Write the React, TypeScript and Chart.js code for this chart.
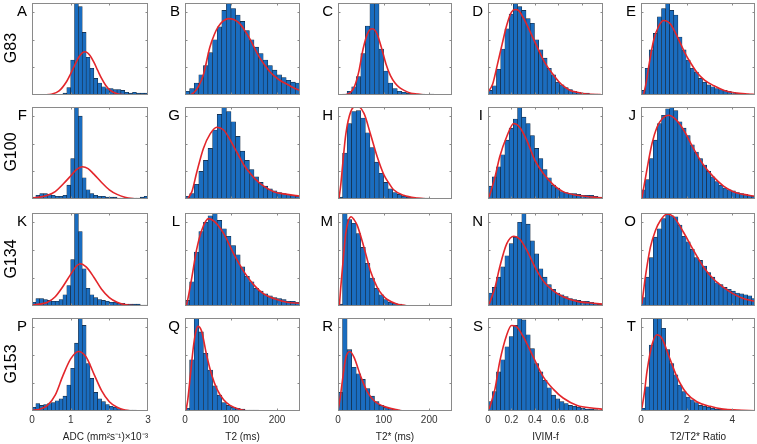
import React, { useEffect, useRef } from 'react';
import { Chart, registerables } from 'chart.js';

Chart.register(...registerables);

// ---------- axis definitions (one per column) ----------
const colTitles = ['ADC (mm²s⁻¹)×10⁻³', 'T2 (ms)', 'T2* (ms)', 'IVIM-f', 'T2/T2* Ratio'];
const colMin = [0, 0, 0, 0, 0];
const colMax = [3, 250, 250, 0.98, 5];
const adcTicks = [0, 1, 2, 3];
const t2Ticks = [0, 100, 200];
const t2sTicks = [0, 100, 200];
const ivimTicks = [0, 0.2, 0.4, 0.6, 0.8];
const ratioTicks = [0, 2, 4];
const binWidths = [0.1, 10, 10, 0.036, 0.18];
const rowLabels = ['G83', 'G100', 'G134', 'G153'];
const panelLetters = ['A', 'B', 'C', 'D', 'E', 'F', 'G', 'H', 'I', 'J', 'K', 'L', 'M', 'N', 'O', 'P', 'Q', 'R', 'S', 'T'];
const yTicks = [30, 60, 90];

// ---------- histogram heights (percent of panel height), bins start at 0 ----------
const histA = [0, 0, 0, 0, 0, 0, 0, 0, 2, 8, 38, 125, 96, 68, 41, 29, 18, 13, 9, 7, 7, 6, 6, 5, 3, 2, 3, 2, 2, 2];
const histB = [4, 7, 13, 22, 32, 46, 60, 74, 92, 108, 94, 87, 80, 70, 60, 52, 45, 38, 32, 27, 22, 19, 16, 14, 13];
const histC = [0, 1, 4, 9, 20, 45, 75, 115, 105, 50, 26, 13, 7, 4, 3, 2, 1, 1, 1, 0.5, 1, 0.5, 0, 0, 0];
const histD = [5, 10, 28, 50, 72, 88, 110, 96, 92, 83, 78, 60, 49, 40, 29, 22, 14, 11, 8, 6, 4, 3, 2, 2, 1, 1, 0.5];
const histE = [5, 29, 49, 67, 85, 94, 105, 92, 87, 63, 49, 38, 29, 25, 18, 14, 11, 9, 7, 6, 5, 4, 3, 2, 1, 1, 1, 0.5];
const histF = [2, 4, 6, 6, 5, 4, 3, 3, 4, 15, 44, 130, 90, 23, 10, 6, 4, 3, 3, 2, 2, 2, 1, 1, 1, 1, 1, 1, 2, 3];
const histG = [3, 6, 16, 30, 42, 55, 75, 92, 108, 95, 84, 68, 52, 42, 32, 24, 18, 14, 11, 9, 7, 6, 5, 4, 3];
const histH = [2, 50, 82, 95, 96, 88, 72, 56, 40, 28, 18, 11, 7, 5, 3, 2, 1.5, 1, 1, 1, 0.5, 0, 0, 0, 0];
const histI = [14, 24, 35, 48, 64, 77, 87, 108, 89, 82, 69, 55, 44, 32, 23, 15, 12, 8, 7, 6, 6, 5, 4, 4, 4, 3, 2];
const histJ = [10, 21, 44, 64, 82, 91, 98, 108, 96, 84, 77, 69, 59, 51, 44, 37, 30, 24, 19, 15, 12, 10, 9, 7, 6, 5, 4, 3];
const histK = [4, 8, 8, 7, 6, 5, 5, 7, 12, 22, 50, 110, 80, 40, 19, 12, 9, 7, 6, 5, 4, 4, 3, 3, 2, 2, 2, 2, 1, 1];
const histL = [6, 26, 58, 80, 90, 97, 106, 92, 83, 75, 65, 55, 42, 32, 26, 19, 16, 13, 11, 9, 8, 7, 5, 5, 4];
const histM = [2, 110, 93, 89, 78, 63, 46, 30, 19, 12, 7, 4, 3, 2, 1, 0.5, 0, 0, 0, 0, 0, 0, 0, 0, 0];
const histN = [14, 20, 31, 42, 54, 67, 74, 90, 105, 88, 70, 56, 40, 31, 23, 18, 14, 12, 10, 8, 7, 6, 5, 5, 4, 3, 2];
const histO = [9, 31, 52, 74, 83, 94, 99, 97, 96, 87, 75, 69, 61, 52, 49, 43, 36, 31, 25, 23, 20, 18, 16, 14, 13, 12, 11, 8];
const histP = [4, 8, 6, 7, 8, 9, 11, 13, 16, 28, 46, 73, 110, 92, 51, 35, 20, 13, 10, 7, 5, 4, 2.5, 1.5, 1, 1, 1, 0.5, 0.5, 0];
const histQ = [3, 55, 108, 85, 62, 44, 27, 17, 9, 6, 4, 3, 2, 1, 1, 1, 0.5, 0, 0, 0, 0, 0, 0, 0, 0];
const histR = [20, 115, 66, 47, 40, 34, 24, 16, 10, 6, 4, 3, 2, 1, 0.5, 0, 0, 0, 0, 0, 0, 0, 0, 0, 0];
const histS = [10, 21, 42, 55, 69, 80, 92, 106, 98, 82, 67, 51, 42, 33, 25, 17, 13, 10, 8, 6, 5, 4, 3, 2, 2, 1.5, 1];
const histT = [3, 26, 71, 105, 103, 89, 66, 51, 39, 28, 21, 15, 12, 9, 6, 5, 4, 3, 2, 2, 2, 1, 1, 1, 0.5, 0.5, 0.5, 0.5];

// ---------- fitted curves (x, height in percent of panel) ----------
const fitAx = [0.3, 0.5, 0.7, 0.9, 1.0, 1.1, 1.2, 1.3, 1.37, 1.5, 1.6, 1.7, 1.8, 1.9, 2.0, 2.2, 2.4];
const fitAy = [0.1, 0.9, 4.5, 15, 23, 32, 40.5, 45.8, 47, 43, 35.7, 26.7, 18, 10.9, 5.9, 1.3, 0.2];
const fitBx = [12, 20, 30, 40, 54, 64, 72, 82, 94, 106, 120, 130, 141, 152, 163, 174, 185, 196, 206, 217, 228, 239, 250];
const fitBy = [0, 3, 10, 22, 52, 66, 74, 80, 83, 82, 77, 70, 61, 50, 40, 32, 25, 20, 16, 13, 10, 7, 5];
const fitCx = [15, 25, 35, 45, 55, 65, 75, 85, 95, 105, 115, 125, 135, 145, 160, 175, 190];
const fitCy = [0, 2, 8, 24, 50, 67, 72, 67, 52, 34, 21, 13, 8, 5, 2, 1, 0];
const fitDx = [0, 0.04, 0.08, 0.12, 0.16, 0.2, 0.23, 0.26, 0.3, 0.34, 0.38, 0.42, 0.46, 0.5, 0.55, 0.6, 0.65, 0.7, 0.76, 0.84, 0.96];
const fitDy = [3, 12, 33, 55, 76, 90, 93, 92, 84, 74, 63, 52, 41, 32, 23, 15, 9, 5, 3, 1, 0.4];
const fitEx = [0.1, 0.2, 0.34, 0.56, 0.78, 1.0, 1.15, 1.3, 1.6, 1.9, 2.2, 2.5, 2.8, 3.2, 3.65, 4.1, 4.7, 5.0];
const fitEy = [0, 10, 31, 60, 75, 81, 80, 77, 63, 47, 34, 23, 16, 10, 5, 2.5, 1, 0.5];
const fitFx = [0, 0.2, 0.4, 0.6, 0.8, 1.0, 1.15, 1.3, 1.45, 1.6, 1.8, 2.0, 2.2, 2.4, 2.6, 2.8];
const fitFy = [1, 2, 4, 8, 16, 25, 32, 35, 33, 27, 18, 10, 5, 2, 0.5, 0];
const fitGx = [5, 15, 25, 40, 55, 69, 84, 95, 106, 117, 128, 140, 150, 171, 193, 222, 250];
const fitGy = [0, 8, 28, 55, 71, 78, 75, 67, 57, 47, 37, 29, 23, 14, 8, 5, 3];
const fitHx = [2, 6, 10, 17, 28, 42, 57, 71, 86, 101, 112, 122, 144, 174, 200];
const fitHy = [0, 15, 36, 70, 95, 101, 93, 71, 46, 26, 17, 10, 4, 1, 0];
const fitIx = [0.01, 0.06, 0.1, 0.16, 0.22, 0.27, 0.33, 0.4, 0.47, 0.56, 0.64, 0.76, 0.9, 0.98];
const fitIy = [2, 24, 46, 68, 82, 78, 64, 42, 28, 15, 8, 4, 2, 1];
const fitJx = [0.04, 0.26, 0.48, 0.7, 0.92, 1.21, 1.5, 1.87, 2.3, 2.74, 3.18, 3.62, 4.05, 4.49, 5];
const fitJy = [1, 32, 60, 78, 87, 91, 87, 75, 55, 37, 24, 14, 8, 5, 3];
const fitKx = [0, 0.2, 0.4, 0.6, 0.8, 1.0, 1.15, 1.25, 1.4, 1.6, 1.8, 2.0, 2.2, 2.4, 2.6, 2.8];
const fitKy = [1, 2, 4, 10, 21, 34, 43, 45.5, 42, 31, 18, 9, 4, 1.5, 0.5, 0];
const fitLx = [3, 8, 15, 25, 36, 51, 66, 84, 106, 128, 149, 171, 193, 222, 250];
const fitLy = [0, 12, 31, 60, 81, 94, 90, 78, 56, 37, 23, 13, 8, 4, 3];
const fitMx = [3, 6, 10, 17, 23, 29, 35, 42, 57, 71, 86, 97, 108, 130, 148];
const fitMy = [0, 20, 42, 78, 92, 96, 93, 87, 63, 38, 20, 12, 7, 2, 0.5];
const fitNx = [0.01, 0.06, 0.1, 0.16, 0.22, 0.27, 0.33, 0.4, 0.47, 0.56, 0.64, 0.76, 0.9, 0.98];
const fitNy = [2, 20, 42, 67, 75, 72, 60, 42, 27, 16, 10, 5, 3, 2];
const fitOx = [0.04, 0.19, 0.41, 0.63, 0.85, 1.14, 1.43, 1.87, 2.3, 2.74, 3.18, 3.62, 4.05, 4.49, 5];
const fitOy = [2, 31, 63, 81, 92, 99, 96, 79, 60, 42, 29, 20, 13, 8, 5];
const fitPx = [0, 0.2, 0.4, 0.6, 0.8, 1.0, 1.2, 1.4, 1.6, 1.8, 2.0, 2.2, 2.4, 2.6];
const fitPy = [0.5, 2, 6, 17, 38, 56, 64, 58, 40, 22, 10, 4, 1, 0];
const fitQx = [2, 6, 11, 18, 23, 28, 36, 47, 58, 69, 84, 98, 120, 135];
const fitQy = [0, 12, 35, 68, 84, 91, 86, 60, 39, 24, 12, 6, 1.5, 0];
const fitRx = [0, 5, 9.5, 17, 26, 35, 50, 64, 79, 100, 122, 137];
const fitRy = [0, 15, 32, 57, 64, 58, 37, 21, 11, 5, 2, 0.5];
const fitSx = [0.01, 0.06, 0.1, 0.16, 0.2, 0.24, 0.3, 0.39, 0.47, 0.56, 0.64, 0.76, 0.9, 0.98];
const fitSy = [2, 24, 53, 82, 92, 91, 80, 57, 37, 23, 14, 6, 3, 2];
const fitTx = [0.04, 0.15, 0.26, 0.48, 0.7, 0.92, 1.21, 1.57, 2.0, 2.45, 3.03, 3.6, 4.2, 5];
const fitTy = [3, 20, 42, 71, 82, 78, 60, 37, 19, 10, 5, 2, 1, 0.3];

// ---------- tables built from the arrays above ----------
const colTicks = [adcTicks, t2Ticks, t2sTicks, ivimTicks, ratioTicks];
const HISTS = [
  [histA, histB, histC, histD, histE],
  [histF, histG, histH, histI, histJ],
  [histK, histL, histM, histN, histO],
  [histP, histQ, histR, histS, histT],
];
const FITS_X = [
  [fitAx, fitBx, fitCx, fitDx, fitEx],
  [fitFx, fitGx, fitHx, fitIx, fitJx],
  [fitKx, fitLx, fitMx, fitNx, fitOx],
  [fitPx, fitQx, fitRx, fitSx, fitTx],
];
const FITS_Y = [
  [fitAy, fitBy, fitCy, fitDy, fitEy],
  [fitFy, fitGy, fitHy, fitIy, fitJy],
  [fitKy, fitLy, fitMy, fitNy, fitOy],
  [fitPy, fitQy, fitRy, fitSy, fitTy],
];

// ---------- layout & style ----------
const COL_LEFT = [32, 185, 338, 488, 641];
const COL_W = [116, 115, 114, 115, 114];
const ROW_TOP = [3, 107, 213, 318];
const ROW_H = [92, 92, 93, 93];
const X_AXIS_H = 36;
const FONT = '"Liberation Sans", Arial, Helvetica, sans-serif';
const BAR_FILL = '#1a6dc0';
const BAR_EDGE = '#15263a';
const FIT_RED = '#e3262b';
const BOX_COLOR = '#8a8a8a';
const TICK_LEN = 2.5;

const boxPlugin = {
  id: 'matlabBox',
  afterDatasetsDraw(chart: any) {
    const { ctx, chartArea: a, scales } = chart;
    const xs = scales.x;
    const ys = scales.y;
    ctx.save();
    ctx.strokeStyle = BOX_COLOR;
    ctx.lineWidth = 1;
    ctx.strokeRect(a.left + 0.5, a.top + 0.5, a.right - a.left - 1, a.bottom - a.top - 1);
    ctx.beginPath();
    for (const t of xs.ticks) {
      const px = Math.round(xs.getPixelForValue(t.value)) + 0.5;
      if (px <= a.left + 2 || px >= a.right - 2) continue;
      ctx.moveTo(px, a.bottom);
      ctx.lineTo(px, a.bottom - TICK_LEN);
      ctx.moveTo(px, a.top);
      ctx.lineTo(px, a.top + TICK_LEN);
    }
    for (const t of ys.ticks) {
      const py = Math.round(ys.getPixelForValue(t.value)) + 0.5;
      if (py <= a.top + 2 || py >= a.bottom - 2) continue;
      ctx.moveTo(a.left, py);
      ctx.lineTo(a.left + TICK_LEN, py);
      ctx.moveTo(a.right, py);
      ctx.lineTo(a.right - TICK_LEN, py);
    }
    ctx.stroke();
    ctx.restore();
  },
};

function Panel({ row, col }: { row: number; col: number }) {
  const ref = useRef<HTMLCanvasElement | null>(null);
  const isBottom = row === 3;
  const padL = 12;
  const padR = col === 4 ? 2 : 12;
  const padT = 4;
  const padB = 4;
  const w = COL_W[col];
  const h = ROW_H[row];
  const cw = w + padL + padR;
  const ch = h + padT + (isBottom ? X_AXIS_H : padB);

  useEffect(() => {
    if (!ref.current) return;
    const bw = binWidths[col];
    const hist = HISTS[row][col];
    const fx = FITS_X[row][col];
    const fy = FITS_Y[row][col];
    const ticks = colTicks[col];
    const chart = new Chart(ref.current, {
      type: 'bar',
      data: {
        datasets: [
          {
            type: 'line',
            data: fx.map((x, i) => ({ x, y: fy[i] })),
            borderColor: FIT_RED,
            borderWidth: 1.6,
            pointRadius: 0,
            fill: false,
            cubicInterpolationMode: 'monotone',
            order: 1,
          } as any,
          {
            type: 'bar',
            data: hist.map((v, i) => ({ x: colMin[col] + (i + 0.5) * bw, y: v > 0 ? v : null })),
            backgroundColor: BAR_FILL,
            borderColor: BAR_EDGE,
            borderWidth: 0.6,
            borderSkipped: false,
            barPercentage: 1,
            categoryPercentage: 1,
            order: 2,
          } as any,
        ],
      },
      options: {
        responsive: false,
        animation: false,
        events: [],
        layout: { padding: { left: padL, right: padR, top: padT, bottom: isBottom ? 0 : padB } },
        plugins: {
          legend: { display: false },
          tooltip: { enabled: false },
          title: { display: false },
        },
        scales: {
          x: {
            type: 'linear',
            min: colMin[col],
            max: colMax[col],
            offset: false,
            display: isBottom,
            grid: { display: false, drawTicks: false, offset: false },
            border: { display: false },
            afterBuildTicks: (s: any) => {
              s.ticks = ticks.map((v) => ({ value: v }));
            },
            afterFit: isBottom
              ? (s: any) => {
                  s.height = X_AXIS_H;
                }
              : undefined,
            ticks: {
              autoSkip: false,
              maxRotation: 0,
              minRotation: 0,
              padding: 3,
              color: '#333333',
              font: { family: FONT, size: 10 },
              callback: (v: any) => String(v),
            },
            title: {
              display: isBottom,
              text: colTitles[col],
              color: '#222222',
              align: col === 0 ? 'end' : 'center',
              font: { family: FONT, size: 10 },
              padding: { top: 0, bottom: 4 },
            },
          },
          y: {
            type: 'linear',
            min: 0,
            max: 100,
            display: false,
            afterBuildTicks: (s: any) => {
              s.ticks = yTicks.map((v) => ({ value: v }));
            },
          },
        },
      } as any,
      plugins: [boxPlugin],
    });
    return () => chart.destroy();
  }, [row, col]);

  return (
    <canvas
      ref={ref}
      width={cw}
      height={ch}
      style={{
        position: 'absolute',
        left: COL_LEFT[col] - padL,
        top: ROW_TOP[row] - padT,
        width: cw,
        height: ch,
      }}
    />
  );
}

export default function App() {
  const cells: any[] = [];
  for (let r = 0; r < 4; r++) {
    for (let c = 0; c < 5; c++) {
      cells.push(<Panel key={`p${r}-${c}`} row={r} col={c} />);
      cells.push(
        <div
          key={`l${r}-${c}`}
          style={{
            position: 'absolute',
            left: COL_LEFT[c] - 35,
            top: ROW_TOP[r],
            width: 30,
            textAlign: 'right',
            fontFamily: FONT,
            fontSize: 15,
            lineHeight: '15px',
            color: '#000',
          }}
        >
          {panelLetters[r * 5 + c]}
        </div>
      );
    }
    cells.push(
      <div
        key={`r${r}`}
        style={{
          position: 'absolute',
          left: 11 - 30,
          top: ROW_TOP[r] + ROW_H[r] / 2 - 1 - 10,
          width: 60,
          height: 20,
          lineHeight: '20px',
          textAlign: 'center',
          fontFamily: FONT,
          fontSize: 16,
          color: '#000',
          transform: 'rotate(-90deg)',
          whiteSpace: 'nowrap',
        }}
      >
        {rowLabels[r]}
      </div>
    );
  }
  return (
    <div
      style={{
        position: 'absolute',
        left: 0,
        top: 0,
        width: 757,
        height: 444,
        overflow: 'hidden',
        background: '#ffffff',
      }}
    >
      {cells}
    </div>
  );
}
